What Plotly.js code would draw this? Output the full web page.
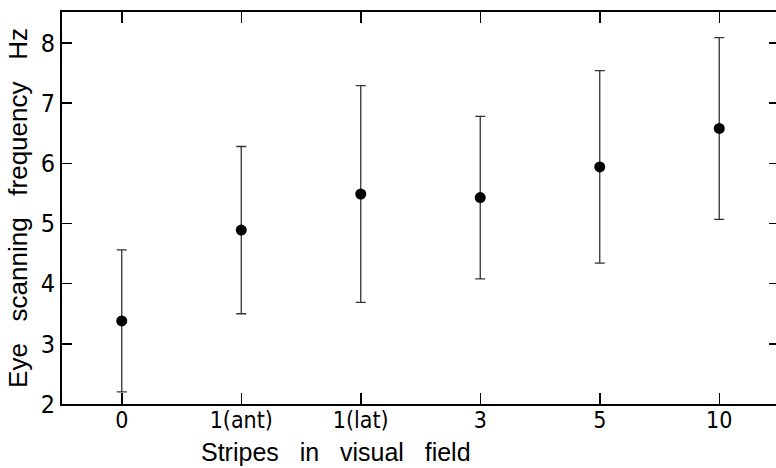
<!DOCTYPE html>
<html>
<head>
<meta charset="utf-8">
<script src="https://cdn.plot.ly/plotly-3.0.1.min.js"></script>
<style>
html,body{margin:0;padding:0;background:#fff;overflow:hidden;}
#chart{width:779px;height:468px;}
</style>
</head>
<body>
<div id="chart"></div>
<script>
const categories = ["0", "1(ant)", "1(lat)", "3", "5", "10"];
const meanHz = [3.38, 4.89, 5.49, 5.43, 5.94, 6.58];
const errorHz = [1.18, 1.39, 1.80, 1.35, 1.60, 1.51];
const yTicks = [2, 3, 4, 5, 6, 7, 8];
const xTitle = "Stripes\u00a0\u00a0 in\u00a0\u00a0 visual\u00a0\u00a0 field";
const yTitle = "Eye\u00a0\u00a0 scanning\u00a0\u00a0 frequency\u00a0\u00a0 Hz";

const tickFont = "DejaVu Sans Condensed, Liberation Sans Narrow, Liberation Sans, sans-serif";
const titleFont = "Liberation Sans, Arial, sans-serif";

const trace = {
  type: "scatter",
  mode: "markers",
  x: categories,
  y: meanHz,
  marker: {color: "#000", size: 11},
  error_y: {type: "data", array: errorHz, visible: true, color: "#333", thickness: 1.3, width: 5},
  showlegend: false,
  hoverinfo: "x+y"
};

const layout = {
  width: 779,
  height: 468,
  margin: {l: 62, r: 0, t: 12, b: 64},
  paper_bgcolor: "#fff",
  plot_bgcolor: "#fff",
  font: {family: titleFont, color: "#000", size: 24},
  xaxis: {
    type: "category",
    range: [-0.5, 5.5],
    tickmode: "array",
    tickvals: categories,
    ticktext: categories,
    ticks: "inside",
    ticklen: 11,
    tickwidth: 1.5,
    tickcolor: "#000",
    ticklabelstandoff: -6,
    showline: true,
    linecolor: "#000",
    linewidth: 2,
    mirror: "ticks",
    showgrid: false,
    zeroline: false,
    tickfont: {family: tickFont, size: 23, color: "#000"}
  },
  yaxis: {
    range: [2, 8.515],
    tickmode: "array",
    tickvals: yTicks,
    ticktext: yTicks.map(String),
    ticks: "inside",
    ticklen: 10,
    tickwidth: 1.5,
    tickcolor: "#000",
    showline: true,
    linecolor: "#000",
    linewidth: 2,
    mirror: "ticks",
    showgrid: false,
    zeroline: false,
    tickfont: {family: tickFont, size: 25, color: "#000"},
    title: {text: yTitle, font: {family: titleFont, size: 26, color: "#000"}, standoff: 6}
  },
  annotations: [{
    text: xTitle,
    xref: "paper", yref: "paper",
    x: 0.382, y: -0.122,
    xanchor: "center", yanchor: "middle",
    showarrow: false,
    font: {family: titleFont, size: 25, color: "#000"}
  }]
};

Plotly.newPlot("chart", [trace], layout, {displayModeBar: false, staticPlot: true});
</script>
</body>
</html>
